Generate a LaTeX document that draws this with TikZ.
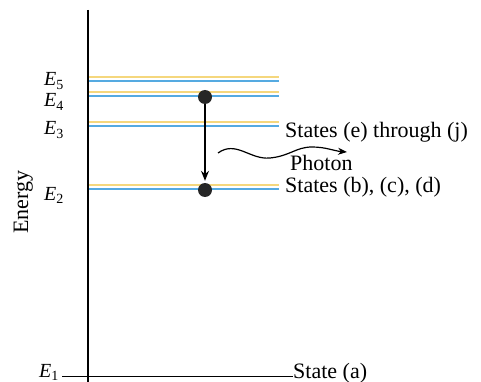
\documentclass[tikz,border=0pt]{standalone}
\usepackage{fontspec}
\setmainfont{Liberation Serif}
\usetikzlibrary{arrows.meta,positioning}
\definecolor{lvlblue}{RGB}{85,170,225}
\definecolor{lvlyellow}{RGB}{245,215,125}
\newcommand{\En}[1]{\textit{E}\textsubscript{#1}}

\begin{document}
\begin{tikzpicture}[x=1pt,y=-1pt,font=\fontsize{22}{24}\selectfont,
    level/.style={lvlblue, line width=1.6pt},
    glow/.style={lvlyellow, line width=1.4pt},
    dot/.style={circle, fill=black!85, inner sep=0pt, minimum size=14pt},
    lab/.style={anchor=base west, inner sep=0pt},
    elab/.style={anchor=base east, inner sep=0pt, font=\fontsize{20}{22}\selectfont}]
    \useasboundingbox (0,0) rectangle (481,382);
    % Draw energy axis
    \coordinate (top) at (88,10);
    \coordinate (bot) at (88,384);
    \draw[line width=1.2pt] (top) -- (bot);
    \node[rotate=90, anchor=base west, inner sep=0pt] (energy) at (28,234) {Energy};

    % Levels E5 ... E2
    \foreach \n/\y/\b in {5/81/86, 4/96/107, 3/126/135, 2/189/200}{
        \draw[glow] (89,\y-4) -- (279,\y-4);
        \draw[level] (89,\y) coordinate (L\n a) -- (279,\y) coordinate (L\n b);
        \node[elab] (E\n) at (64,\b) {\En{\n}};
    }

    % Ground level E1
    \node[elab] (E1) at (59,377) {\En{1}};
    \coordinate (g0) at (62,376);
    \node[lab] (sa) at (293,378) {State (a)};
    \draw[line width=1pt] (g0) -- (sa.west |- g0);

    % State labels
    \node[lab] (sej) at (285,138) {States (e) through (j)};
    \node[lab] (sbd) at (285,192) {States (b), (c), (d)};
    \node[lab] (ph) at (290,170) {Photon};

    % Electron drops from E4 to E2
    \node[dot] (d4) at (205,97) {};
    \node[dot] (d2) at (205,190) {};
    \draw[-{Stealth[length=10pt,width=8pt]}, line width=1.2pt, shorten >=2pt] (d4) -- (d2.north);

    % Photon leaves
    \coordinate (w0) at (218,153);
    \coordinate (w1) at (347,152);
    \draw[-{Stealth[length=9pt,width=7pt]}, line width=1.2pt]
        (w0) .. controls (236,140) and (250,160) .. (270,158)
        .. controls (290,156) and (296,147) .. (312,147)
        .. controls (326,147) and (334,151) .. (w1);
\end{tikzpicture}
\end{document}
